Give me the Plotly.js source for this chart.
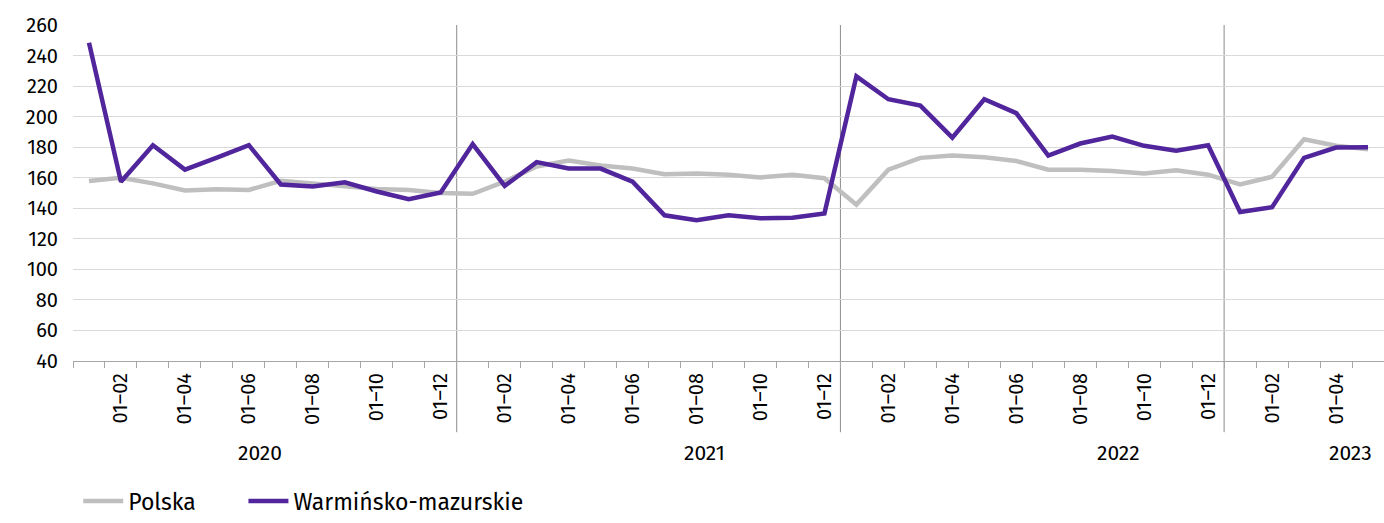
<!DOCTYPE html>
<html>
<head>
<meta charset="utf-8">
<script src="https://cdn.plot.ly/plotly-3.0.1.min.js"></script>
<style>
html,body{margin:0;padding:0;background:#fff;}
#chart{width:1384px;height:523px;}
</style>
</head>
<body>
<div id="chart"></div>
<script>
// Categories (monthly, 2020-01 .. 2023-05)
const months = [
  "2020-01","2020-02","2020-03","2020-04","2020-05","2020-06","2020-07","2020-08","2020-09","2020-10","2020-11","2020-12",
  "2021-01","2021-02","2021-03","2021-04","2021-05","2021-06","2021-07","2021-08","2021-09","2021-10","2021-11","2021-12",
  "2022-01","2022-02","2022-03","2022-04","2022-05","2022-06","2022-07","2022-08","2022-09","2022-10","2022-11","2022-12",
  "2023-01","2023-02","2023-03","2023-04","2023-05"
];
// Tick labels shown under the axis (every other month)
const tickLabels = [
  "","01–02","","01–04","","01–06","","01–08","","01–10","","01–12",
  "","01–02","","01–04","","01–06","","01–08","","01–10","","01–12",
  "","01–02","","01–04","","01–06","","01–08","","01–10","","01–12",
  "","01–02","","01–04",""
];
// Series values
const polska = [
  157.8,160.0,156.3,151.6,152.4,152.0,158.0,156.3,155.0,152.7,152.0,150.0,
  149.5,157.4,167.4,171.3,168.0,166.0,162.3,162.7,162.0,160.2,162.0,159.7,
  142.4,165.3,173.0,174.5,173.4,170.9,165.3,165.3,164.4,162.7,164.9,162.0,
  155.6,160.6,185.2,180.9,178.7
];
const warminsko = [
  248.3,157.4,181.3,165.3,173.2,181.3,155.6,154.2,157.0,151.0,146.0,150.3,
  182.0,154.6,170.2,166.0,166.0,157.4,135.4,132.2,135.4,133.4,133.8,136.6,
  226.4,211.4,207.2,186.2,211.4,202.3,174.5,182.4,186.9,180.9,177.7,181.3,
  137.5,140.7,173.0,179.8,180.0
];
const seriesNames = ["Polska","Warmińsko-mazurskie"];
const years = ["2020","2021","2022","2023"];
// label placement (layout, category-index units)
const yearLabelPos = [5.35, 19.25, 32.2, 39.45];

const FONT = "'Fira Sans', 'Noto Sans', 'Open Sans', sans-serif";

const traces = [
  {x: months, y: polska, name: seriesNames[0], type: "scatter", mode: "lines",
   line: {color: "#BFBFBF", width: 4.5}, legend: "legend"},
  {x: months, y: warminsko, name: seriesNames[1], type: "scatter", mode: "lines",
   line: {color: "#51259B", width: 4.5}, legend: "legend2"}
];

const shapes = [];
months.forEach((m, i) => {
  if (i > 0 && m.endsWith("-01")) {
    shapes.push({type: "line", xref: "x", yref: "paper", x0: i - 0.5, x1: i - 0.5,
      y0: -0.212, y1: 1, line: {color: "#8C8C8C", width: 1}, layer: "below"});
  }
});

const annotations = years.map((y, k) => ({
  text: y, xref: "x", yref: "paper", x: yearLabelPos[k], y: -0.274,
  xanchor: "center", yanchor: "middle", showarrow: false,
  font: {family: FONT, size: 21, color: "#000"}
}));

const legendBase = {orientation: "h", xanchor: "left", y: -0.417, yanchor: "middle",
  font: {family: FONT, size: 23, color: "#000"}, bgcolor: "rgba(0,0,0,0)", itemwidth: 40};

const layout = {
  width: 1384, height: 523,
  margin: {l: 73, r: 0, t: 25, b: 155},
  paper_bgcolor: "#fff", plot_bgcolor: "#fff",
  font: {family: FONT, color: "#000"},
  showlegend: true,
  legend: Object.assign({}, legendBase, {x: 0.004}),
  legend2: Object.assign({}, legendBase, {x: 0.130}),
  xaxis: {type: "category", tickmode: "array", tickvals: months, ticktext: tickLabels,
    tickson: "boundaries", ticks: "outside", ticklen: 6, tickcolor: "#A6A6A6",
    showline: true, linecolor: "#A6A6A6", linewidth: 1, showgrid: false, zeroline: false,
    tickangle: -90, tickfont: {family: FONT, size: 20, color: "#000"}, ticklabelstandoff: 3,
    range: [-0.5, months.length - 0.5], fixedrange: true},
  yaxis: {range: [40, 260], dtick: 20, tick0: 40, showgrid: true, gridcolor: "#D9D9D9",
    gridwidth: 1, zeroline: false, showline: false, ticks: "",
    tickfont: {family: FONT, size: 20, color: "#000"}, ticklabelstandoff: 14, fixedrange: true},
  shapes: shapes,
  annotations: annotations
};

Plotly.newPlot("chart", traces, layout, {displayModeBar: false, staticPlot: true});
</script>
</body>
</html>
